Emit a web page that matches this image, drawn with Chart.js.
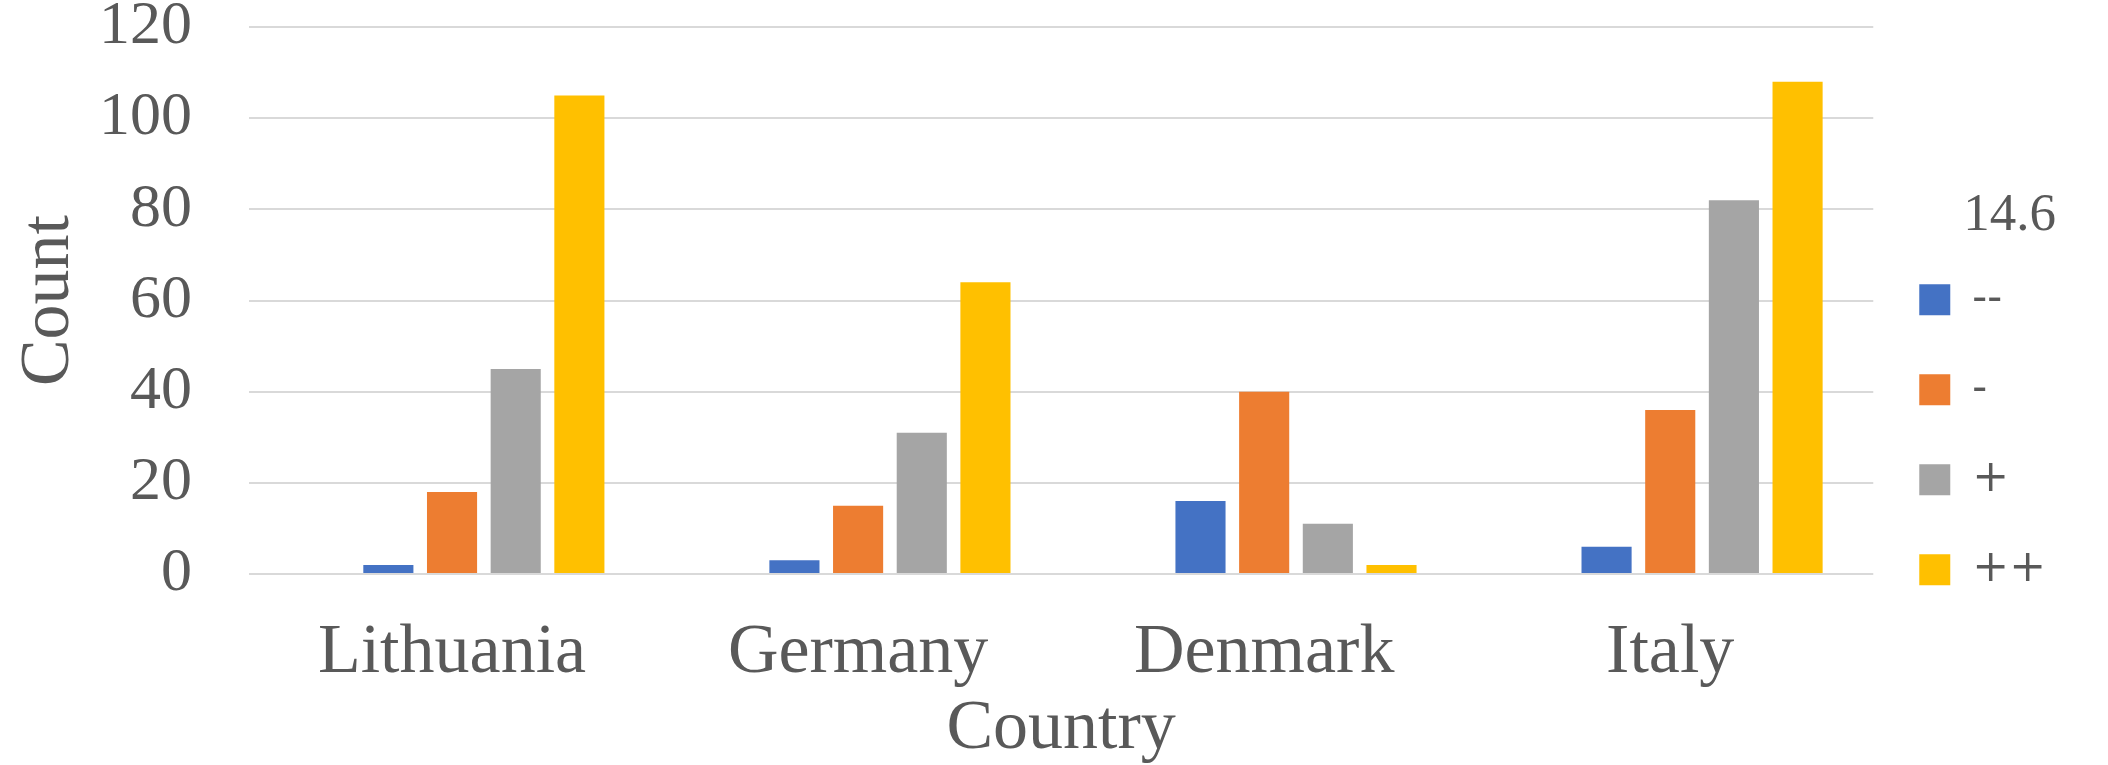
<!DOCTYPE html>
<html>
<head>
<meta charset="utf-8">
<script src="https://cdn.jsdelivr.net/npm/chart.js@4"></script>
<style>
	html, body { margin: 0; padding: 0; background: #fff; }
	#wrap { width: 2108px; height: 765px; }
</style>
</head>
<body>
<div id="wrap"><canvas id="countChart" width="2108" height="765"></canvas></div>
<script>
const countries = ['Lithuania', 'Germany', 'Denmark', 'Italy']
const seriesNames = ['--', '-', '+', '++']
const blank = [null, null, null, null]
const veryNeg = [2, 3, 16, 6]
const neg = [18, 15, 40, 36]
const pos = [45, 31, 11, 82]
const veryPos = [105, 64, 2, 108]
const yTicks = [0, 20, 40, 60, 80, 100, 120]

const colors = ['#4472C4', '#ED7D31', '#A5A5A5', '#FFC000']
const textColor = '#595959'

Chart.defaults.font.family = "'Liberation Serif', serif"
Chart.defaults.color = textColor

document.addEventListener("DOMContentLoaded", function () {
	const ctx = document.getElementById('countChart')
	const values = [veryNeg, neg, pos, veryPos]

	// first slot of each group is an empty series in the original
	const datasets = [{ label: '', data: blank, backgroundColor: 'rgba(0,0,0,0)' }]
	values.forEach((v, i) => {
		datasets.push({
			label: seriesNames[i],
			data: v,
			backgroundColor: colors[i],
			borderWidth: 0
		})
	})

	new Chart(ctx, {
		type: 'bar',
		data: { labels: countries, datasets: datasets },
		options: {
			responsive: false,
			animation: false,
			devicePixelRatio: 1,
			layout: { padding: { left: 0, right: 52, top: 27, bottom: 0 } },
			datasets: {
				bar: { categoryPercentage: 0.784, barPercentage: 0.787 }
			},
			plugins: {
				tooltip: { enabled: false },
				legend: {
					position: 'right',
					title: {
						display: true,
						text: '14.6',
						color: textColor,
						position: 'end',
						font: { size: 53 },
						padding: { top: 35, bottom: -21 }
					},
					labels: {
						filter: item => item.text !== '',
						boxWidth: 31,
						boxHeight: 31,
						padding: 46,
						color: textColor,
						font: { family: "'DejaVu Serif', serif", size: 44 }
					}
				}
			},
			scales: {
				x: {
					grid: { display: false },
					border: { display: false },
					afterFit: axis => { axis.height = 191; axis.paddingLeft = 0; axis.paddingRight = 0 },
					ticks: { font: { size: 70 }, padding: 30, color: textColor },
					title: { display: true, text: 'Country', font: { size: 70, lineHeight: 1.0 }, padding: 0, color: textColor }
				},
				y: {
					min: 0,
					max: 120,
					afterBuildTicks: axis => { axis.ticks = yTicks.map(v => ({ value: v })) },
					afterFit: axis => { axis.width = 249; axis.paddingTop = 0; axis.paddingBottom = 0 },
					grid: { color: '#D9D9D9', lineWidth: 2, drawTicks: false },
					border: { display: false },
					ticks: { font: { size: 62 }, padding: 57, color: textColor, autoSkip: false },
					title: { display: true, text: 'Count', font: { size: 70 }, padding: 8, color: textColor }
				}
			}
		}
	})
})
</script>
</body>
</html>
